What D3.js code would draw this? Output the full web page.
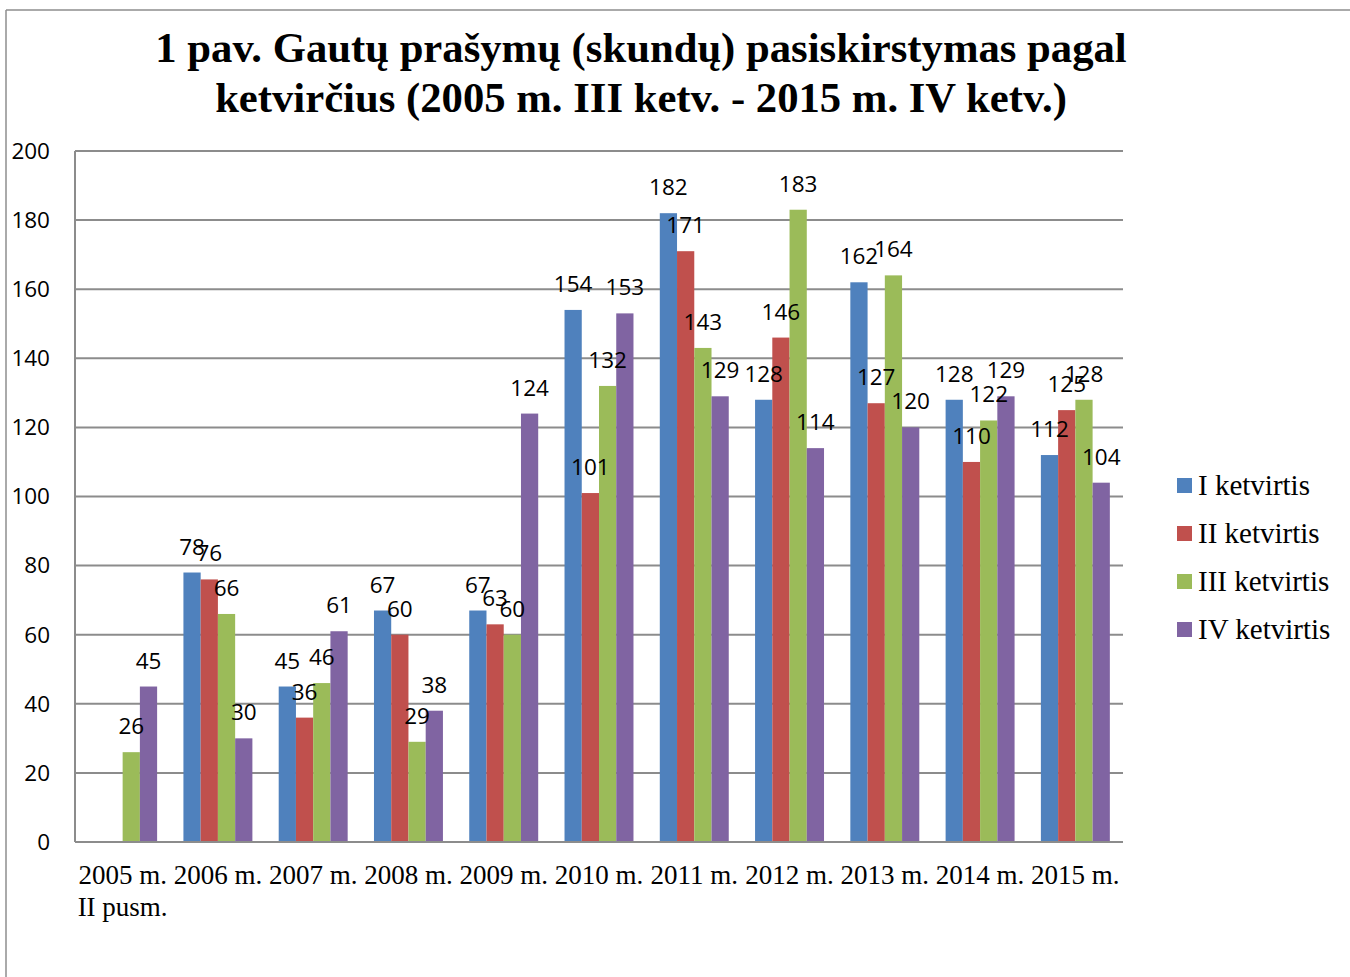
<!DOCTYPE html>
<html>
<head>
<meta charset="utf-8">
<script src="https://cdnjs.cloudflare.com/ajax/libs/d3/7.8.5/d3.min.js"></script>
<style>
body { margin: 0; background: #fff; }
svg { display: block; }
</style>
</head>
<body>
<svg id="main" width="1350" height="977"></svg>
<script>
// data
var years = ["2005 m.|II pusm.", "2006 m.", "2007 m.", "2008 m.", "2009 m.", "2010 m.", "2011 m.", "2012 m.", "2013 m.", "2014 m.", "2015 m."];
var seriesNames = ["I ketvirtis", "II ketvirtis", "III ketvirtis", "IV ketvirtis"];
var q1 = [null, 78, 45, 67, 67, 154, 182, 128, 162, 128, 112];
var q2 = [null, 76, 36, 60, 63, 101, 171, 146, 127, 110, 125];
var q3 = [26, 66, 46, 29, 60, 132, 143, 183, 164, 122, 128];
var q4 = [45, 30, 61, 38, 124, 153, 129, 114, 120, 129, 104];
var yTicks = [0, 20, 40, 60, 80, 100, 120, 140, 160, 180, 200];
var colors = ["#4F81BD", "#C0504D", "#9BBB59", "#8064A2"];

window.onload = function() {
var svg = d3.select("#main");
var series = [q1, q2, q3, q4];
var left = 75, right = 1123, top = 151, bottom = 842;
var serif = "'Liberation Serif', 'Times New Roman', serif";
var sans = "'Open Sans', sans-serif";

// outer frame
svg.append("line").attr("x1", 6).attr("y1", 10).attr("x2", 1350).attr("y2", 10)
	.attr("stroke", "#8e8e8e").attr("stroke-width", 1.5);
svg.append("line").attr("x1", 6).attr("y1", 10).attr("x2", 6).attr("y2", 977)
	.attr("stroke", "#8e8e8e").attr("stroke-width", 1.5);

// title
var title = svg.append("text").attr("text-anchor", "middle")
	.style("font-family", serif).style("font-weight", "bold").style("font-size", "42.7px");
title.append("tspan").attr("x", 641).attr("y", 62).text("1 pav. Gautų prašymų (skundų) pasiskirstymas pagal");
title.append("tspan").attr("x", 641).attr("y", 112).text("ketvirčius (2005 m. III ketv. - 2015 m. IV ketv.)");

var x = d3.scaleBand().domain(d3.range(years.length)).range([left, right]);
var xi = d3.scaleBand().domain(d3.range(4)).range([0, x.bandwidth()]).paddingOuter(0.763);
var y = d3.scaleLinear().domain([0, 200]).range([bottom, top]);

// gridlines
svg.selectAll("line.grid").data(yTicks).enter().append("line")
	.attr("class", "grid")
	.attr("x1", left).attr("x2", right)
	.attr("y1", function(d){ return y(d); }).attr("y2", function(d){ return y(d); })
	.attr("stroke", "#8c8c8c").attr("stroke-width", 2);
svg.append("line").attr("x1", left).attr("x2", left).attr("y1", top).attr("y2", bottom)
	.attr("stroke", "#8c8c8c").attr("stroke-width", 2);

// y labels
svg.selectAll("text.ytick").data(yTicks).enter().append("text")
	.attr("class", "ytick")
	.attr("x", 50).attr("y", function(d){ return y(d); })
	.attr("dy", "0.35em").attr("text-anchor", "end")
	.style("font-family", sans).style("font-size", "22.5px")
	.text(function(d){ return d; });

// bars
series.forEach(function(vals, s){
	var g = svg.append("g");
	vals.forEach(function(v, i){
		if (v == null) return;
		g.append("rect")
			.attr("x", x(i) + xi(s))
			.attr("y", y(v))
			.attr("width", xi.bandwidth())
			.attr("height", y(0) - y(v))
			.attr("fill", colors[s]);
	});
});

// bottom axis over bars
svg.append("line").attr("x1", left).attr("x2", right).attr("y1", bottom).attr("y2", bottom)
	.attr("stroke", "#8c8c8c").attr("stroke-width", 2);

// value labels
series.forEach(function(vals, s){
	vals.forEach(function(v, i){
		if (v == null) return;
		svg.append("text")
			.attr("x", x(i) + xi(s) + xi.bandwidth() / 2)
			.attr("y", y(v) - 18)
			.attr("text-anchor", "middle")
			.style("font-family", sans).style("font-size", "22.5px")
			.text(v);
	});
});

// x labels
years.forEach(function(lbl, i){
	var t = svg.append("text").attr("text-anchor", "middle")
		.style("font-family", serif).style("font-size", "27px");
	lbl.split("|").forEach(function(part, k){
		t.append("tspan").attr("x", x(i) + x.bandwidth() / 2).attr("y", 884 + k * 32).text(part);
	});
});

// legend
seriesNames.forEach(function(name, s){
	var ly = 495 + s * 48;
	svg.append("rect").attr("x", 1177).attr("y", ly - 17).attr("width", 15).attr("height", 15)
		.attr("fill", colors[s]);
	svg.append("text").attr("x", 1198).attr("y", ly)
		.style("font-family", serif).style("font-size", "29px")
		.text(name);
});
}
</script>
</body>
</html>
